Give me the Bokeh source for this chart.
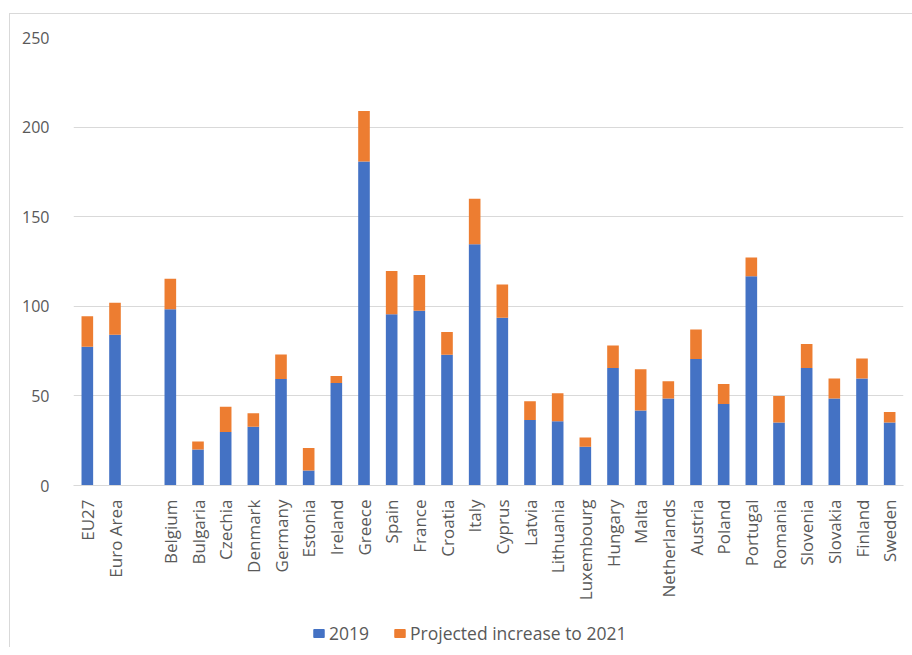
from bokeh.plotting import figure
from bokeh.models import FactorRange, Range1d, FixedTicker, Legend, LegendItem, ColumnDataSource
from bokeh.layouts import column
from bokeh.embed import file_html
from bokeh.resources import INLINE
import math

factors = ["EU27", "Euro Area", " ", "Belgium", "Bulgaria", "Czechia", "Denmark", "Germany",
           "Estonia", "Ireland", "Greece", "Spain", "France", "Croatia", "Italy", "Cyprus",
           "Latvia", "Lithuania", "Luxembourg", "Hungary", "Malta", "Netherlands", "Austria",
           "Poland", "Portugal", "Romania", "Slovenia", "Slovakia", "Finland", "Sweden"]

countries = ["EU27", "Euro Area", "Belgium", "Bulgaria", "Czechia", "Denmark", "Germany",
             "Estonia", "Ireland", "Greece", "Spain", "France", "Croatia", "Italy", "Cyprus",
             "Latvia", "Lithuania", "Luxembourg", "Hungary", "Malta", "Netherlands", "Austria",
             "Poland", "Portugal", "Romania", "Slovenia", "Slovakia", "Finland", "Sweden"]

values_2019 = [77.4, 84.1, 98.3, 20.1, 29.8, 32.8, 59.5, 8.4, 57.2, 180.8, 95.5, 97.5, 72.9,
               134.6, 93.6, 36.5, 35.8, 21.6, 65.6, 41.8, 48.5, 70.6, 45.5, 116.7, 35.1,
               65.6, 48.5, 59.7, 35.1]

increase_2021 = [17.1, 17.9, 17.1, 4.5, 14.2, 7.5, 13.6, 12.5, 3.9, 28.2, 24.2, 19.9, 12.7,
                 25.4, 18.6, 10.5, 15.7, 5.2, 12.5, 23.1, 9.7, 16.5, 11.2, 10.6, 14.8,
                 13.4, 11.2, 11.2, 5.9]

y_ticks = [0, 50, 100, 150, 200, 250]

series_names = ["2019", "Projected increase to 2021"]
colors = ["#4472C4", "#ED7D31"]
text_color = "#595959"

source = ColumnDataSource(dict(x=countries, v2019=values_2019, inc=increase_2021))

p = figure(x_range=FactorRange(*factors), y_range=Range1d(0, 250),
           width=902, height=603, output_backend="svg", toolbar_location=None,
           min_border_left=63, min_border_right=9, min_border_top=23, min_border_bottom=132)

renderers = p.vbar_stack(["v2019", "inc"], x="x", width=0.42, color=colors, source=source,
                         line_color=None)

p.outline_line_color = None
p.background_fill_color = "white"
p.border_fill_color = "white"

p.xgrid.grid_line_color = None
p.ygrid.grid_line_color = "#d9d9d9"
p.ygrid.grid_line_width = 1
p.yaxis.ticker = FixedTicker(ticks=y_ticks)
p.yaxis.axis_line_color = None
p.yaxis.major_tick_line_color = None
p.yaxis.minor_tick_line_color = None
p.yaxis.major_label_standoff = 18
p.yaxis.major_label_text_font = "Open Sans"
p.yaxis.major_label_text_font_size = "16px"
p.yaxis.major_label_text_color = text_color

p.xaxis.axis_line_color = "#d9d9d9"
p.xaxis.major_tick_line_color = None
p.xaxis.minor_tick_line_color = None
p.xaxis.major_label_orientation = math.pi / 2
p.xaxis.major_label_standoff = 8
p.xaxis.major_label_text_font = "Open Sans"
p.xaxis.major_label_text_font_size = "17px"
p.xaxis.major_label_text_color = text_color

# legend strip below the chart (swatch renderers sit outside the visible range)
lf = figure(width=902, height=30, output_backend="svg", toolbar_location=None,
            x_range=Range1d(0, 1), y_range=Range1d(0, 1),
            x_axis_location=None, y_axis_location=None,
            min_border=0, min_border_left=0, min_border_right=0, min_border_top=0, min_border_bottom=0)
lf.grid.visible = False
lf.outline_line_color = None
lf.border_fill_color = "white"
swatch = ColumnDataSource(dict(x=[5], top=[0]))
r1 = lf.vbar(x="x", top="top", width=0.5, color=colors[0], source=swatch)
r2 = lf.vbar(x="x", top="top", width=0.5, color=colors[1], source=swatch)

legend = Legend(items=[LegendItem(label=series_names[0], renderers=[r1]),
                       LegendItem(label=series_names[1], renderers=[r2])],
                orientation="horizontal", location=(239, 2))
legend.label_text_font = "Open Sans"
legend.label_text_font_size = "17.5px"
legend.label_text_color = text_color
legend.glyph_width = 13
legend.glyph_height = 10
legend.label_standoff = 4
legend.spacing = 24
legend.padding = 2
legend.margin = 0
legend.border_line_color = None
legend.background_fill_alpha = 0
lf.add_layout(legend, "center")

layout = column(p, lf, spacing=0)
layout.margin = (13, 0, 0, 9)
layout.styles = {"border-top": "1px solid #d9d9d9", "border-left": "1px solid #d9d9d9"}

open("out.html", "w").write(file_html(layout, INLINE))
